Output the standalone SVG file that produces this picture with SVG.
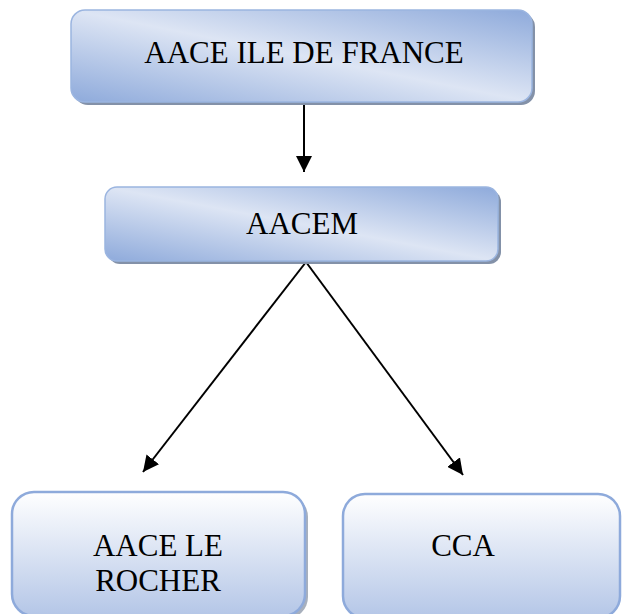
<svg xmlns="http://www.w3.org/2000/svg" width="624" height="614" viewBox="0 0 624 614">
<defs>
<linearGradient id="gTop" x1="0" y1="1" x2="1" y2="0">
<stop offset="0" stop-color="#8eaadb"/>
<stop offset="0.5" stop-color="#dde5f4"/>
<stop offset="1" stop-color="#8eaadb"/>
</linearGradient>
<linearGradient id="gBot" x1="0" y1="0" x2="0" y2="1">
<stop offset="0" stop-color="#ffffff"/>
<stop offset="1" stop-color="#b4c6e7"/>
</linearGradient>
<marker id="arr" viewBox="0 0 10 10" refX="10" refY="5" markerWidth="8" markerHeight="8" markerUnits="userSpaceOnUse" orient="auto">
<path d="M0,0 L10,5 L0,10 Z" fill="#000"/>
</marker>
<marker id="arrH" viewBox="0 0 16 16" refX="16" refY="8" markerWidth="16" markerHeight="16" markerUnits="userSpaceOnUse" orient="auto">
<path d="M0,0 L16,8 L0,16 Z" fill="#000"/>
</marker>
</defs>
<style>
.shadow{fill:#8391a8;}
.top{fill:url(#gTop);stroke:#9bb5e0;stroke-width:1.5;}
.bot{fill:url(#gBot);stroke:#8eaadb;stroke-width:2.5;}
.bshadow{fill:#a8b0bd;}
text{font-family:"Liberation Serif","Times New Roman",serif;font-size:31px;fill:#000;text-anchor:middle;}
.edge{stroke:#000;stroke-width:2;fill:none;marker-end:url(#arrH);}
</style>
<g id="connectors">
<line class="edge" x1="304" y1="104" x2="304" y2="172"/>
<line class="edge" x1="306" y1="262" x2="143" y2="472"/>
<line class="edge" x1="306" y1="262" x2="463" y2="475"/>
</g>
<g id="n-iledefrance">
<rect class="shadow" x="74" y="13" width="461" height="92" rx="14"/>
<rect class="top" x="71" y="10" width="461" height="92" rx="14"/>
<text x="304" y="63">AACE ILE DE FRANCE</text>
</g>
<g id="n-aacem">
<rect class="shadow" x="108" y="190" width="393" height="74" rx="12"/>
<rect class="top" x="105" y="187" width="393" height="74" rx="12"/>
<text x="302" y="234">AACEM</text>
</g>
<g id="n-rocher">
<rect class="bshadow" x="15" y="495" width="293" height="124" rx="22"/>
<rect class="bot" x="12" y="492" width="293" height="124" rx="22"/>
<text x="158" y="556">AACE LE</text>
<text x="158" y="591">ROCHER</text>
</g>
<g id="n-cca">
<rect class="bot" x="343" y="494" width="277" height="124" rx="22"/>
<text x="463" y="556">CCA</text>
</g>
</svg>
